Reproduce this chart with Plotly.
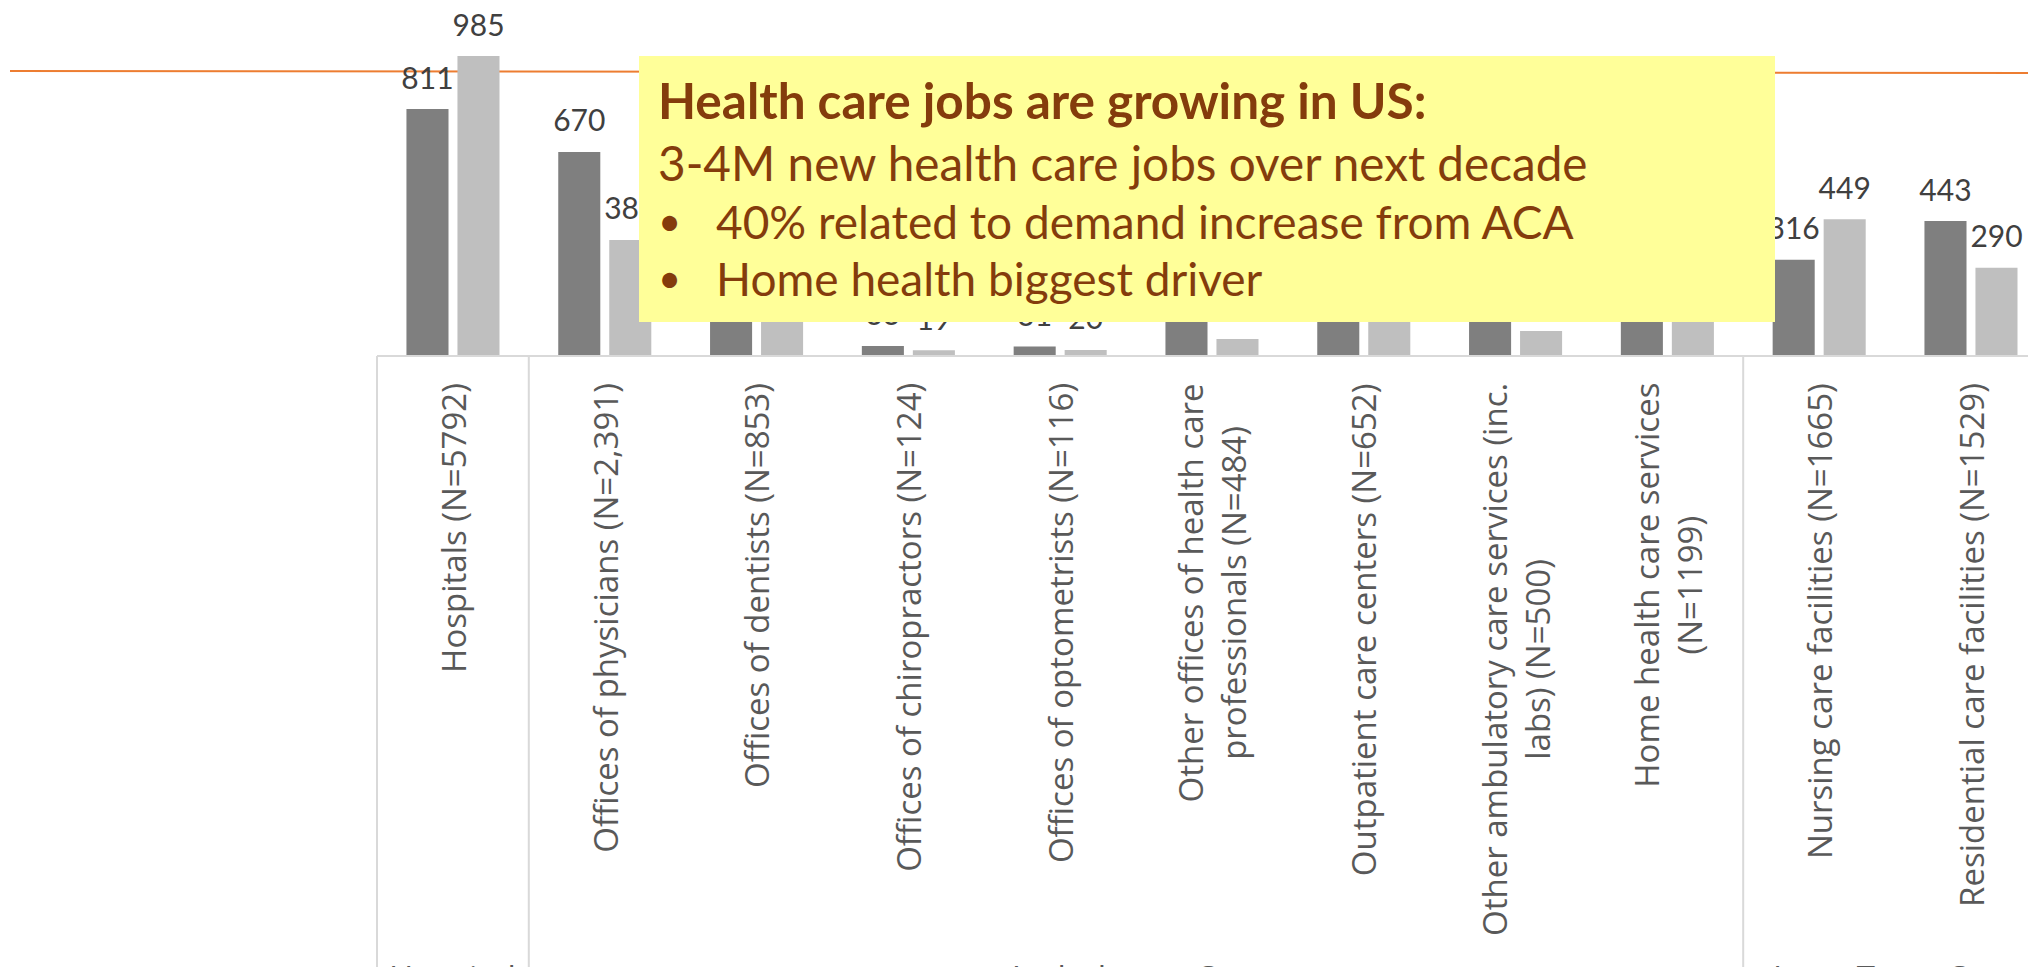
import numpy as np
import plotly.graph_objects as go

# ---------------- data ----------------
categories = [
    "Hospitals (N=5792)",
    "Offices of physicians (N=2,391)",
    "Offices of dentists (N=853)",
    "Offices of chiropractors (N=124)",
    "Offices of optometrists (N=116)",
    "Other offices of health care<br>professionals (N=484)",
    "Outpatient care centers (N=652)",
    "Other ambulatory care services (inc.<br>labs) (N=500)",
    "Home health care services<br>(N=1199)",
    "Nursing care facilities (N=1665)",
    "Residential care facilities (N=1529)",
]
series_dark = [811, 670, 330, 33, 31, 226, 250, 255, 450, 316, 443]
series_light = [985, 381, 262, 19, 20, 56, 300, 82, 700, 449, 290]
groups = ["Hospital", "Ambulatory Care", "Long Term Care"]
group_sizes = [1, 8, 2]

box_title = "Health care jobs are growing in US:"
box_line2 = "3-4M new health care jobs over next decade"
box_bullets = ["40% related to demand increase from ACA", "Home health biggest driver"]

# ---------------- layout constants (pixels) ----------------
W, H = 2028, 967
PL, PR = 377, 2028          # plot area left/right
BASE = 356                  # pixel row of y=0
CAT_W = 151.8               # pixel width of a category
YMAX = 1168.9               # value at top of figure

def px_x(p):
    return (p - PL) / (PR - PL)

def px_y(p):
    return (BASE - p) / BASE

xmin = -0.5
xmax = xmin + (PR - PL) / CAT_W
x = np.arange(len(categories))

def cat_to_paper(v):
    return (v - xmin) / (xmax - xmin)

DARK = "#7F7F7F"
LIGHT = "#BFBFBF"
LABEL_C = "#404040"
TICK_C = "#595959"
BROWN = "#843C0C"

bar_w = 0.277
off_dark = -0.306
off_light = 0.030

fig = go.Figure()
fig.add_trace(go.Bar(x=x, y=series_dark, width=bar_w, offset=off_dark,
                     marker=dict(color=DARK, line=dict(width=0)), hoverinfo="skip"))
fig.add_trace(go.Bar(x=x, y=series_light, width=bar_w, offset=off_light,
                     marker=dict(color=LIGHT, line=dict(width=0)), hoverinfo="skip"))

# data labels (drawn as trace text so the callout box covers them)
pad_units = 13 / (BASE / YMAX)
fig.add_trace(go.Scatter(x=x + off_dark + bar_w / 2, y=np.array(series_dark) + pad_units,
                         text=[str(v) for v in series_dark], mode="text",
                         textposition="top center", cliponaxis=False,
                         textfont=dict(family="Lato", size=30, color=LABEL_C), hoverinfo="skip"))
fig.add_trace(go.Scatter(x=x + off_light + bar_w / 2, y=np.array(series_light) + pad_units,
                         text=[str(v) for v in series_light], mode="text",
                         textposition="top center", cliponaxis=False,
                         textfont=dict(family="Lato", size=30, color=LABEL_C), hoverinfo="skip"))

shapes = []
# orange reference line (behind bars)
shapes.append(dict(type="line", xref="paper", yref="paper",
                   x0=px_x(10), x1=px_x(2040), y0=px_y(71), y1=px_y(73),
                   line=dict(color="#ED7D31", width=2), layer="below"))
# axis baseline
shapes.append(dict(type="line", xref="paper", yref="paper",
                   x0=0, x1=1.01, y0=0, y1=0,
                   line=dict(color="#D9D9D9", width=2), layer="above"))
# group separators
bounds = [xmin]
acc = xmin
for s in group_sizes:
    acc += s
    bounds.append(acc)
for b in bounds:
    shapes.append(dict(type="line", xref="paper", yref="paper",
                       x0=cat_to_paper(b), x1=cat_to_paper(b), y0=0, y1=px_y(H + 5),
                       line=dict(color="#D9D9D9", width=2), layer="above"))
# callout box
shapes.append(dict(type="rect", xref="paper", yref="paper",
                   x0=px_x(639), x1=px_x(1775), y0=px_y(322), y1=px_y(56),
                   fillcolor="#FFFF99", line=dict(width=0), layer="above"))

annotations = []
# category labels (rotated)
for i, c in enumerate(categories):
    annotations.append(dict(x=i, y=0, xref="x", yref="paper", text=c, showarrow=False,
                            textangle=-90, xanchor="center", yanchor="top", yshift=-25,
                            align="center",
                            font=dict(family="Open Sans", size=33, color=TICK_C)))
# group labels (cut off by the bottom edge, as in the original)
for gi, g in enumerate(groups):
    c = (bounds[gi] + bounds[gi + 1]) / 2
    annotations.append(dict(x=c, y=px_y(953), xref="x", yref="paper", text=g,
                            showarrow=False, xanchor="center", yanchor="top",
                            font=dict(family="Open Sans", size=33, color=TICK_C)))
# callout text
annotations.append(dict(x=px_x(656), y=px_y(100), xref="paper", yref="paper",
                        text="<b>" + box_title + "</b>", showarrow=False,
                        xanchor="left", yanchor="middle",
                        font=dict(family="Lato", size=49.5, color=BROWN)))
annotations.append(dict(x=px_x(656), y=px_y(163), xref="paper", yref="paper",
                        text=box_line2, showarrow=False, xanchor="left", yanchor="middle",
                        font=dict(family="Lato", size=47.7, color=BROWN)))
for k, btxt in enumerate(box_bullets):
    yc = 221 + 57 * k
    annotations.append(dict(x=px_x(656), y=px_y(yc), xref="paper", yref="paper",
                            text="•", showarrow=False, xanchor="left", yanchor="middle",
                            font=dict(family="Lato", size=40, color=BROWN)))
    annotations.append(dict(x=px_x(714), y=px_y(yc), xref="paper", yref="paper",
                            text=btxt, showarrow=False, xanchor="left", yanchor="middle",
                            font=dict(family="Lato", size=46, color=BROWN)))

fig.update_layout(
    width=W, height=H, autosize=False,
    margin=dict(l=PL, r=W - PR, t=0, b=H - BASE, pad=0),
    paper_bgcolor="white", plot_bgcolor="white",
    barmode="overlay", showlegend=False,
    xaxis=dict(range=[xmin, xmax], showticklabels=False, showgrid=False,
               zeroline=False, showline=False, ticks=""),
    yaxis=dict(range=[0, YMAX], visible=False, showgrid=False, zeroline=False),
    shapes=shapes, annotations=annotations,
)

fig.write_html("out.html")
